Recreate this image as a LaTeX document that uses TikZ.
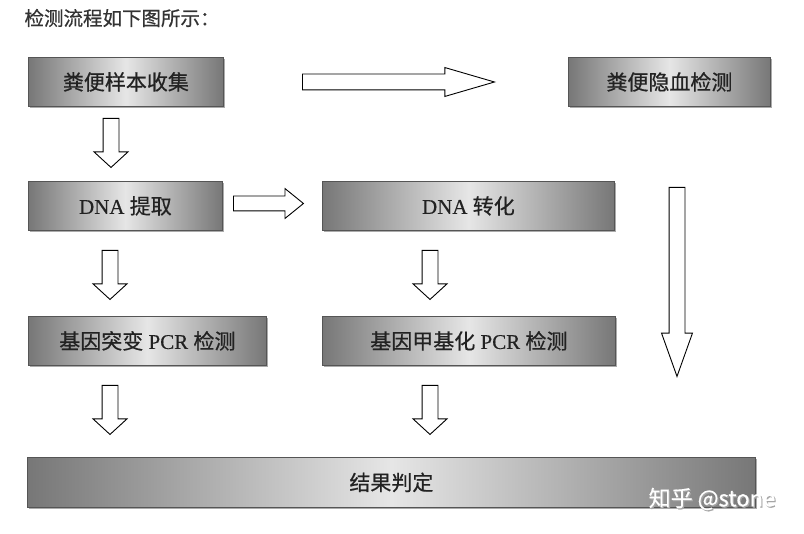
\documentclass[tikz,border=0pt]{standalone}
\usepackage{fontspec}
\setmainfont{Liberation Serif}[FakeBold=0.4]
\newfontfamily\cjk{Noto Sans CJK SC}[FakeBold=0.6]
\usetikzlibrary{positioning,shapes.arrows,shadows}
\definecolor{flowInk}{HTML}{222222}
\definecolor{flowTitle}{HTML}{333333}
\definecolor{flowDark}{HTML}{777777}
\definecolor{flowLight}{HTML}{E6E6E6}
\definecolor{flowEdge}{HTML}{555555}
\definecolor{flowShadow}{HTML}{ABABAB}
\tikzset{
  every picture/.style={text=flowInk},
  flow box/.style={draw=flowEdge, line width=0.8pt, anchor=north west,
    left color=flowDark, right color=flowDark, middle color=flowLight,
    minimum height=49pt, inner sep=0pt, font=\fontsize{21}{25}\selectfont,
    drop shadow={shadow xshift=1.5pt, shadow yshift=-1.5pt,
      fill=flowShadow, opacity=1}},
  flow arrow/.style={single arrow, draw=black, fill=white, line width=0.9pt,
    anchor=tail, inner xsep=0pt, inner ysep=7.5pt, minimum width=0pt,
    single arrow head indent=0pt},
  flow down/.style={flow arrow, rotate=-90, minimum height=49pt,
    single arrow head extend=9pt, single arrow tip angle=95}
}

\begin{document}
\begin{tikzpicture}[x=1pt,y=-1pt]
  \useasboundingbox[fill=white] (0,0) rectangle (804,534);
  \node[anchor=west, font=\cjk\fontsize{19.5}{23}\selectfont, text=flowTitle]
    (title) at (21,18) {检测流程如下图所示：};

  % boxes
  \node[flow box, minimum width=195pt] (collect) at (28,57) {\cjk 粪便样本收集};
  \node[flow box, minimum width=202pt] (fobt) at (568,57) {\cjk 粪便隐血检测};
  \node[flow box, minimum width=194pt] (extract) at (28,181) {DNA {\cjk 提取}};
  \node[flow box, minimum width=292pt] (convert) at (322,181) {DNA {\cjk 转化}};
  \node[flow box, minimum width=238pt] (mutation) at (28,316)
    {{\cjk 基因突变} PCR {\cjk 检测}};
  \node[flow box, minimum width=293pt] (methyl) at (322,316)
    {{\cjk 基因甲基化} PCR {\cjk 检测}};
  \node[flow box, minimum width=728pt, minimum height=50pt] (result) at (27,457)
    {\cjk 结果判定};

  % arrows
  \node[flow arrow, minimum height=192pt, single arrow head extend=6.5pt,
    single arrow tip angle=32.5] (toFobt) at (302,82) {};
  \node[flow arrow, minimum height=70pt, inner ysep=7pt,
    single arrow head extend=7.5pt, single arrow tip angle=78] (toConvert) at (233,203.5) {};
  \node[flow down] (toExtract) at (111,118) {};
  \node[flow down] (toMutation) at (110,250) {};
  \node[flow down] (toMethyl) at (430,250) {};
  \node[flow down] (mutToResult) at (110,385) {};
  \node[flow down] (metToResult) at (430,385) {};
  \node[flow arrow, rotate=-90, minimum height=189pt,
    single arrow head extend=7.5pt, single arrow tip angle=39.3] (toResult) at (677,187) {};

  % watermark
  \node[font=\cjk\fontsize{22}{26}\selectfont, text=gray!70] at (713.2,500.2) {知乎 @stone};
  \node[font=\cjk\fontsize{22}{26}\selectfont, text=white] (mark) at (712,499) {知乎 @stone};
\end{tikzpicture}
\end{document}
